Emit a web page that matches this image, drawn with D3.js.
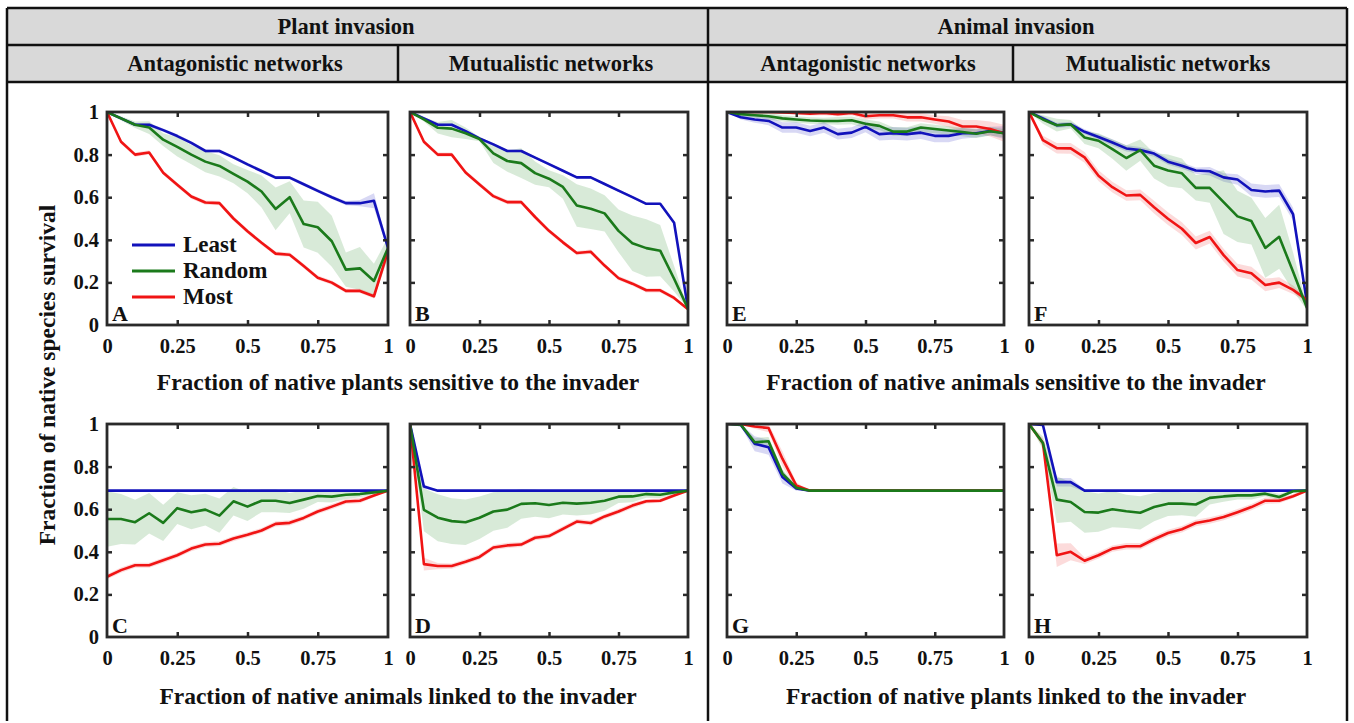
<!DOCTYPE html>
<html>
<head>
<meta charset="utf-8">
<script src="https://cdn.jsdelivr.net/npm/d3@7"></script>
<style>
  html, body { margin: 0; padding: 0; background: #fff; }
  svg { display: block; }
  text { font-family: "Liberation Serif", "Times New Roman", serif; font-weight: bold; fill: #111; }
</style>
</head>
<body>
<svg id="chart" width="1354" height="723"></svg>
<script>
// Fraction of natives affected (x positions shared by every panel)
const fractions = [0, 0.05, 0.1, 0.15, 0.2, 0.25, 0.3, 0.35, 0.4, 0.45, 0.5, 0.55, 0.6, 0.65, 0.7, 0.75, 0.8, 0.85, 0.9, 0.95, 1];
const xTickValues = [0, 0.25, 0.5, 0.75, 1];
const xTickLabels = ["0", "0.25", "0.5", "0.75", "1"];
const yTickValues = [0, 0.2, 0.4, 0.6, 0.8, 1];
const yTickLabels = ["0", "0.2", "0.4", "0.6", "0.8", "1"];
const seriesNames = ["Least", "Random", "Most"];

// Panel A – plant invasion, antagonistic, sensitivity
const aLeast    = [1, 0.97, 0.94, 0.94, 0.915, 0.887, 0.855, 0.817, 0.817, 0.787, 0.754, 0.723, 0.692, 0.692, 0.661, 0.63, 0.6, 0.572, 0.572, 0.583, 0.362];
const aLeastSd  = [0, 0.005, 0.008, 0.008, 0.008, 0.008, 0.008, 0.008, 0.008, 0.008, 0.008, 0.008, 0.008, 0.008, 0.008, 0.008, 0.008, 0.01, 0.015, 0.035, 0.01];
const aRandom   = [1, 0.97, 0.94, 0.927, 0.87, 0.836, 0.8, 0.767, 0.747, 0.71, 0.673, 0.627, 0.545, 0.6, 0.474, 0.459, 0.393, 0.26, 0.266, 0.207, 0.362];
const aRandomSd = [0, 0.01, 0.015, 0.03, 0.03, 0.045, 0.045, 0.05, 0.05, 0.045, 0.055, 0.075, 0.1, 0.075, 0.11, 0.12, 0.12, 0.08, 0.1, 0.08, 0.05];
const aMost     = [1, 0.86, 0.8, 0.81, 0.715, 0.658, 0.603, 0.575, 0.572, 0.5, 0.44, 0.386, 0.335, 0.33, 0.277, 0.222, 0.199, 0.16, 0.16, 0.135, 0.347];
const aMostSd   = [0, 0.01, 0.01, 0.01, 0.01, 0.01, 0.01, 0.01, 0.01, 0.01, 0.01, 0.01, 0.01, 0.01, 0.01, 0.01, 0.01, 0.01, 0.01, 0.01, 0.02];

// Panel B – plant invasion, mutualistic, sensitivity
const bLeast    = [1, 0.97, 0.94, 0.94, 0.91, 0.876, 0.848, 0.817, 0.817, 0.786, 0.755, 0.724, 0.693, 0.693, 0.662, 0.631, 0.6, 0.569, 0.569, 0.48, 0.077];
const bLeastSd  = [0, 0.006, 0.006, 0.006, 0.006, 0.006, 0.006, 0.006, 0.006, 0.006, 0.006, 0.006, 0.006, 0.006, 0.006, 0.006, 0.006, 0.006, 0.006, 0.006, 0.006];
const bRandom   = [1, 0.965, 0.926, 0.922, 0.9, 0.873, 0.806, 0.77, 0.76, 0.713, 0.687, 0.648, 0.561, 0.546, 0.524, 0.442, 0.384, 0.361, 0.349, 0.217, 0.077];
const bRandomSd = [0, 0.01, 0.027, 0.04, 0.027, 0.01, 0.045, 0.05, 0.07, 0.055, 0.04, 0.055, 0.1, 0.095, 0.085, 0.1, 0.13, 0.135, 0.12, 0.06, 0];
const bMost     = [1, 0.86, 0.8, 0.8, 0.716, 0.66, 0.605, 0.577, 0.577, 0.507, 0.442, 0.388, 0.338, 0.344, 0.279, 0.22, 0.194, 0.163, 0.163, 0.127, 0.074];
const bMostSd   = [0, 0.01, 0.01, 0.01, 0.01, 0.01, 0.01, 0.01, 0.01, 0.01, 0.01, 0.01, 0.01, 0.01, 0.01, 0.01, 0.01, 0.01, 0.01, 0.01, 0.005];

// Panel C – plant invasion, antagonistic, links
const cLeast    = [0.687, 0.687, 0.687, 0.687, 0.687, 0.687, 0.687, 0.687, 0.687, 0.687, 0.687, 0.687, 0.687, 0.687, 0.687, 0.687, 0.687, 0.687, 0.687, 0.687, 0.687];
const cLeastSd  = [0.003, 0.003, 0.003, 0.003, 0.003, 0.003, 0.003, 0.003, 0.003, 0.003, 0.003, 0.003, 0.003, 0.003, 0.003, 0.003, 0.003, 0.003, 0.003, 0.003, 0.003];
const cRandom   = [0.554, 0.554, 0.539, 0.581, 0.536, 0.605, 0.586, 0.598, 0.57, 0.637, 0.612, 0.64, 0.64, 0.629, 0.645, 0.662, 0.659, 0.668, 0.671, 0.679, 0.687];
const cRandomSd = [0.13, 0.117, 0.105, 0.095, 0.085, 0.075, 0.08, 0.075, 0.08, 0.067, 0.067, 0.054, 0.054, 0.047, 0.043, 0.028, 0.028, 0.02, 0.015, 0.008, 0];
const cMost     = [0.283, 0.314, 0.337, 0.337, 0.36, 0.384, 0.415, 0.434, 0.438, 0.462, 0.48, 0.5, 0.531, 0.536, 0.559, 0.589, 0.612, 0.636, 0.64, 0.664, 0.687];
const cMostSd   = [0.012, 0.012, 0.012, 0.012, 0.012, 0.012, 0.012, 0.012, 0.012, 0.012, 0.012, 0.012, 0.012, 0.012, 0.012, 0.012, 0.012, 0.012, 0.012, 0.008, 0];

// Panel D – plant invasion, mutualistic, links
const dLeast    = [1, 0.706, 0.687, 0.687, 0.687, 0.687, 0.687, 0.687, 0.687, 0.687, 0.687, 0.687, 0.687, 0.687, 0.687, 0.687, 0.687, 0.687, 0.687, 0.687, 0.687];
const dLeastSd  = [0, 0.01, 0.003, 0.003, 0.003, 0.003, 0.003, 0.003, 0.003, 0.003, 0.003, 0.003, 0.003, 0.003, 0.003, 0.003, 0.003, 0.003, 0.003, 0.003, 0.003];
const dRandom   = [1, 0.597, 0.56, 0.544, 0.539, 0.56, 0.589, 0.598, 0.625, 0.628, 0.62, 0.63, 0.626, 0.63, 0.64, 0.659, 0.66, 0.671, 0.668, 0.679, 0.687];
const dRandomSd = [0, 0.1, 0.11, 0.107, 0.107, 0.1, 0.09, 0.085, 0.07, 0.064, 0.062, 0.055, 0.055, 0.055, 0.047, 0.03, 0.027, 0.017, 0.015, 0.008, 0];
const dMost     = [1, 0.342, 0.333, 0.333, 0.353, 0.376, 0.42, 0.43, 0.434, 0.466, 0.474, 0.508, 0.542, 0.535, 0.566, 0.589, 0.617, 0.637, 0.64, 0.664, 0.687];
const dMostSd   = [0, 0.03, 0.015, 0.012, 0.012, 0.012, 0.012, 0.012, 0.012, 0.012, 0.012, 0.012, 0.012, 0.012, 0.012, 0.012, 0.012, 0.01, 0.01, 0.008, 0];

// Panel E – animal invasion, antagonistic, sensitivity
const eLeast    = [1, 0.975, 0.965, 0.958, 0.927, 0.927, 0.911, 0.927, 0.896, 0.903, 0.93, 0.896, 0.9, 0.896, 0.903, 0.888, 0.888, 0.9, 0.9, 0.911, 0.903];
const eLeastSd  = [0, 0.01, 0.015, 0.02, 0.025, 0.025, 0.025, 0.025, 0.025, 0.025, 0.025, 0.03, 0.03, 0.03, 0.03, 0.03, 0.03, 0.025, 0.02, 0.02, 0.03];
const eRandom   = [1, 0.99, 0.985, 0.98, 0.97, 0.965, 0.96, 0.958, 0.958, 0.961, 0.945, 0.935, 0.908, 0.908, 0.927, 0.92, 0.913, 0.906, 0.898, 0.91, 0.9];
const eRandomSd = [0, 0.01, 0.012, 0.015, 0.015, 0.015, 0.015, 0.015, 0.018, 0.018, 0.02, 0.02, 0.02, 0.02, 0.02, 0.02, 0.02, 0.02, 0.02, 0.02, 0.02];
const eMost     = [1, 1, 1, 1, 0.998, 0.995, 0.992, 0.995, 0.99, 0.995, 0.98, 0.985, 0.985, 0.975, 0.975, 0.965, 0.955, 0.932, 0.932, 0.92, 0.9];
const eMostSd   = [0, 0.003, 0.003, 0.005, 0.005, 0.008, 0.008, 0.01, 0.01, 0.01, 0.015, 0.015, 0.015, 0.02, 0.02, 0.02, 0.025, 0.03, 0.03, 0.035, 0.04];

// Panel F – animal invasion, mutualistic, sensitivity
const fLeast    = [1, 0.97, 0.938, 0.942, 0.907, 0.883, 0.857, 0.829, 0.821, 0.805, 0.767, 0.748, 0.725, 0.722, 0.693, 0.683, 0.634, 0.627, 0.631, 0.52, 0.103];
const fLeastSd  = [0, 0.01, 0.012, 0.012, 0.012, 0.012, 0.015, 0.015, 0.015, 0.015, 0.015, 0.015, 0.015, 0.02, 0.02, 0.025, 0.03, 0.03, 0.03, 0.03, 0.01];
const fRandom   = [1, 0.965, 0.938, 0.942, 0.88, 0.865, 0.826, 0.784, 0.821, 0.748, 0.725, 0.712, 0.644, 0.644, 0.577, 0.51, 0.488, 0.362, 0.414, 0.25, 0.08];
const fRandomSd = [0, 0.02, 0.03, 0.02, 0.03, 0.035, 0.045, 0.06, 0.05, 0.06, 0.075, 0.07, 0.06, 0.07, 0.15, 0.12, 0.11, 0.14, 0.15, 0.09, 0.01];
const fMost     = [1, 0.868, 0.83, 0.829, 0.787, 0.701, 0.647, 0.608, 0.611, 0.553, 0.499, 0.452, 0.385, 0.413, 0.328, 0.258, 0.243, 0.188, 0.199, 0.165, 0.118];
const fMostSd   = [0, 0.02, 0.025, 0.025, 0.025, 0.025, 0.025, 0.025, 0.025, 0.03, 0.03, 0.03, 0.03, 0.03, 0.03, 0.03, 0.03, 0.03, 0.025, 0.02, 0.01];

// Panel G – animal invasion, antagonistic, links
const gLeast    = [1, 0.995, 0.907, 0.891, 0.751, 0.697, 0.687, 0.687, 0.687, 0.687, 0.687, 0.687, 0.687, 0.687, 0.687, 0.687, 0.687, 0.687, 0.687, 0.687, 0.687];
const gLeastSd  = [0, 0.005, 0.035, 0.035, 0.03, 0.01, 0, 0, 0, 0, 0, 0, 0, 0, 0, 0, 0, 0, 0, 0, 0];
const gRandom   = [1, 0.997, 0.914, 0.919, 0.767, 0.701, 0.687, 0.687, 0.687, 0.687, 0.687, 0.687, 0.687, 0.687, 0.687, 0.687, 0.687, 0.687, 0.687, 0.687, 0.687];
const gRandomSd = [0, 0.005, 0.02, 0.02, 0.02, 0.008, 0, 0, 0, 0, 0, 0, 0, 0, 0, 0, 0, 0, 0, 0, 0];
const gMost     = [1, 1, 0.988, 0.981, 0.837, 0.712, 0.687, 0.687, 0.687, 0.687, 0.687, 0.687, 0.687, 0.687, 0.687, 0.687, 0.687, 0.687, 0.687, 0.687, 0.687];
const gMostSd   = [0, 0.003, 0.01, 0.02, 0.035, 0.015, 0, 0, 0, 0, 0, 0, 0, 0, 0, 0, 0, 0, 0, 0, 0];

// Panel H – animal invasion, mutualistic, links
const hLeast    = [1, 0.995, 0.727, 0.727, 0.687, 0.687, 0.687, 0.687, 0.687, 0.687, 0.687, 0.687, 0.687, 0.687, 0.687, 0.687, 0.687, 0.687, 0.687, 0.687, 0.687];
const hLeastSd  = [0, 0.003, 0.02, 0.02, 0.005, 0.003, 0.003, 0.003, 0.003, 0.003, 0.003, 0.003, 0.003, 0.003, 0.003, 0.003, 0.003, 0.003, 0.003, 0.003, 0];
const hRandom   = [1, 0.911, 0.645, 0.634, 0.587, 0.584, 0.6, 0.59, 0.583, 0.61, 0.626, 0.626, 0.622, 0.653, 0.66, 0.665, 0.665, 0.673, 0.657, 0.684, 0.687];
const hRandomSd = [0, 0.03, 0.11, 0.093, 0.097, 0.09, 0.085, 0.078, 0.078, 0.066, 0.058, 0.054, 0.057, 0.031, 0.025, 0.02, 0.02, 0.012, 0.015, 0.005, 0];
const hMost     = [1, 0.911, 0.384, 0.4, 0.358, 0.384, 0.415, 0.426, 0.426, 0.459, 0.488, 0.506, 0.535, 0.547, 0.563, 0.586, 0.61, 0.64, 0.64, 0.661, 0.687];
const hMostSd   = [0, 0.02, 0.055, 0.04, 0.015, 0.015, 0.015, 0.015, 0.015, 0.015, 0.015, 0.015, 0.015, 0.015, 0.015, 0.015, 0.015, 0.015, 0.012, 0.01, 0];

// ---- styling and layout ----
const colors = { Least: "#1212bb", Random: "#1b7a1b", Most: "#f01414" };
const bandColors = { Least: "rgba(60,60,200,0.2)", Random: "rgba(60,150,60,0.2)", Most: "rgba(240,40,40,0.17)" };
const frameColor = "#2a2a2a";

const cols = [
  { x0: 107, x1: 388 },
  { x0: 410, x1: 688 },
  { x0: 727, x1: 1004 },
  { x0: 1029, x1: 1307 }
];
const rows = [
  { y0: 112, y1: 325 },
  { y0: 424, y1: 637 }
];

const panels = [
  { id: "A", col: 0, row: 0, least: [aLeast, aLeastSd], random: [aRandom, aRandomSd], most: [aMost, aMostSd], legend: true },
  { id: "B", col: 1, row: 0, least: [bLeast, bLeastSd], random: [bRandom, bRandomSd], most: [bMost, bMostSd] },
  { id: "C", col: 0, row: 1, least: [cLeast, cLeastSd], random: [cRandom, cRandomSd], most: [cMost, cMostSd] },
  { id: "D", col: 1, row: 1, least: [dLeast, dLeastSd], random: [dRandom, dRandomSd], most: [dMost, dMostSd] },
  { id: "E", col: 2, row: 0, least: [eLeast, eLeastSd], random: [eRandom, eRandomSd], most: [eMost, eMostSd] },
  { id: "F", col: 3, row: 0, least: [fLeast, fLeastSd], random: [fRandom, fRandomSd], most: [fMost, fMostSd] },
  { id: "G", col: 2, row: 1, least: [gLeast, gLeastSd], random: [gRandom, gRandomSd], most: [gMost, gMostSd] },
  { id: "H", col: 3, row: 1, least: [hLeast, hLeastSd], random: [hRandom, hRandomSd], most: [hMost, hMostSd] }
];

const svg = d3.select("#chart");

// ---- header table ----
const W0 = 7, W1 = 1347, T0 = 8, TM = 45, TB = 82, BOT = 721, MID = 708;
svg.append("rect").attr("x", W0).attr("y", T0).attr("width", W1 - W0).attr("height", TB - T0).attr("fill", "#d9d9d9");
const gridLines = [
  [W0, T0, W1, T0], [W0, TM, W1, TM], [W0, TB, W1, TB],
  [W0, T0, W0, BOT], [W1, T0, W1, BOT], [MID, T0, MID, BOT],
  [398, TM, 398, TB], [1013, TM, 1013, TB]
];
svg.append("g").selectAll("line").data(gridLines).join("line")
  .attr("x1", d => d[0]).attr("y1", d => d[1]).attr("x2", d => d[2]).attr("y2", d => d[3])
  .attr("stroke", "#111").attr("stroke-width", 2.5);

const headers = [
  { t: "Plant invasion", x: 346, y: 34 },
  { t: "Animal invasion", x: 1016, y: 34 },
  { t: "Antagonistic networks", x: 235, y: 71 },
  { t: "Mutualistic networks", x: 551, y: 71 },
  { t: "Antagonistic networks", x: 868, y: 71 },
  { t: "Mutualistic networks", x: 1168, y: 71 }
];
svg.append("g").selectAll("text").data(headers).join("text")
  .attr("x", d => d.x).attr("y", d => d.y).attr("text-anchor", "middle")
  .style("font-size", "22.5px").text(d => d.t);

// ---- panels ----
panels.forEach(p => {
  const c = cols[p.col], r = rows[p.row];
  const x = d3.scaleLinear().domain([0, 1]).range([c.x0, c.x1]);
  const y = d3.scaleLinear().domain([0, 1]).range([r.y1, r.y0]);
  const g = svg.append("g");

  const clipId = "clip" + p.id;
  g.append("clipPath").attr("id", clipId).append("rect")
    .attr("x", c.x0).attr("y", r.y0).attr("width", c.x1 - c.x0).attr("height", r.y1 - r.y0);
  const plot = g.append("g").attr("clip-path", `url(#${clipId})`);

  const series = [
    { name: "Least", vals: p.least },
    { name: "Most", vals: p.most },
    { name: "Random", vals: p.random }
  ];

  const area = d3.area()
    .x((d, i) => x(fractions[i]))
    .y0(d => y(Math.max(0, d.m - d.s)))
    .y1(d => y(Math.min(1, d.m + d.s)));
  const line = d3.line().x((d, i) => x(fractions[i])).y(d => y(d.m));

  series.forEach(s => {
    const pts = s.vals[0].map((m, i) => ({ m, s: s.vals[1][i] }));
    plot.append("path").attr("d", area(pts)).attr("fill", bandColors[s.name]).attr("stroke", "none");
  });
  series.forEach(s => {
    const pts = s.vals[0].map((m, i) => ({ m, s: s.vals[1][i] }));
    plot.append("path").attr("d", line(pts)).attr("fill", "none")
      .attr("stroke", colors[s.name]).attr("stroke-width", 2.6).attr("stroke-linejoin", "round");
  });

  // inward tick marks on all four sides
  const innerX = [0.25, 0.5, 0.75];
  const innerY = [0.2, 0.4, 0.6, 0.8];
  const tickStyle = sel => { sel.select(".domain").remove(); sel.selectAll("line").attr("stroke", frameColor).attr("stroke-width", 2.5); sel.selectAll("text").remove(); };
  g.append("g").attr("transform", `translate(0,${r.y1})`).call(d3.axisBottom(x).tickValues(innerX).tickSize(-5)).call(tickStyle);
  g.append("g").attr("transform", `translate(0,${r.y0})`).call(d3.axisTop(x).tickValues(innerX).tickSize(-5)).call(tickStyle);
  g.append("g").attr("transform", `translate(${c.x0},0)`).call(d3.axisLeft(y).tickValues(innerY).tickSize(-5)).call(tickStyle);
  g.append("g").attr("transform", `translate(${c.x1},0)`).call(d3.axisRight(y).tickValues(innerY).tickSize(-5)).call(tickStyle);

  g.append("rect").attr("x", c.x0).attr("y", r.y0).attr("width", c.x1 - c.x0).attr("height", r.y1 - r.y0)
    .attr("fill", "none").attr("stroke", frameColor).attr("stroke-width", 2.8);

  // tick labels
  const labelStyle = sel => { sel.select(".domain").remove(); sel.selectAll("line").remove(); sel.selectAll("text").style("font-size", "20.5px").style("font-family", "'Liberation Serif', serif").style("font-weight", "bold").attr("fill", "#111"); };
  g.append("g").attr("transform", `translate(0,${r.y1})`)
    .call(d3.axisBottom(x).tickValues(xTickValues).tickSize(0).tickPadding(13).tickFormat((d, i) => xTickLabels[i]))
    .call(labelStyle);
  if (p.col === 0) {
    g.append("g").attr("transform", `translate(${c.x0},0)`)
      .call(d3.axisLeft(y).tickValues(yTickValues).tickSize(0).tickPadding(8).tickFormat((d, i) => yTickLabels[i]))
      .call(labelStyle);
  }

  // panel letter
  g.append("text").attr("x", c.x0 + 5).attr("y", r.y1 - 4).style("font-size", "22px").text(p.id);

  // legend
  if (p.legend) {
    const lg = g.append("g");
    seriesNames.forEach((n, i) => {
      const ly = 245 + i * 26;
      lg.append("line").attr("x1", 132).attr("x2", 175).attr("y1", ly).attr("y2", ly)
        .attr("stroke", colors[n]).attr("stroke-width", 3);
      lg.append("text").attr("x", 183).attr("y", ly + 7).style("font-size", "23px").text(n);
    });
  }
});

// ---- axis titles ----
const xTitles = [
  { t: "Fraction of native plants sensitive to the invader", x: 398, y: 390 },
  { t: "Fraction of native animals sensitive to the invader", x: 1016, y: 390 },
  { t: "Fraction of native animals linked to the invader", x: 398, y: 704 },
  { t: "Fraction of native plants linked to the invader", x: 1016, y: 704 }
];
svg.append("g").selectAll("text").data(xTitles).join("text")
  .attr("x", d => d.x).attr("y", d => d.y).attr("text-anchor", "middle")
  .style("font-size", "23.5px").text(d => d.t);

svg.append("text").attr("transform", "translate(55,375) rotate(-90)")
  .attr("text-anchor", "middle").style("font-size", "23.5px")
  .text("Fraction of native species survival");
</script>
</body>
</html>
